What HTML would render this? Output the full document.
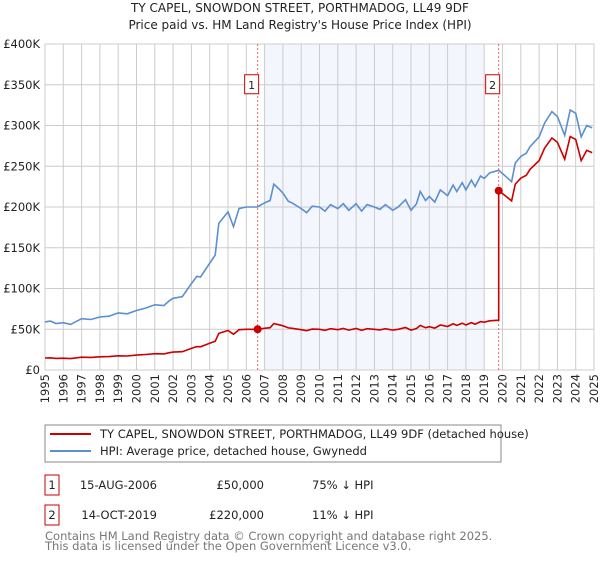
<!DOCTYPE html>
<html><head><meta charset="utf-8"><style>
body{margin:0;background:#fff;font-family:"Liberation Sans","DejaVu Sans",sans-serif;}
svg text{font-family:"DejaVu Sans","Liberation Sans",sans-serif;}
</style></head><body>
<svg id="c" width="600" height="560" viewBox="0 0 600 560" xmlns="http://www.w3.org/2000/svg">
<text x="300" y="12" text-anchor="middle" font-size="12" fill="#222">TY CAPEL, SNOWDON STREET, PORTHMADOG, LL49 9DF</text>
<text x="300" y="29" text-anchor="middle" font-size="12" fill="#222">Price paid vs. HM Land Registry's House Price Index (HPI)</text>
<g id="plot"></g>
<g>
<rect x="45" y="425" width="456" height="37" fill="#fff" stroke="#888"/>
<line x1="50" y1="434" x2="91" y2="434" stroke="#cc0000" stroke-width="2"/>
<text x="100" y="438" font-size="11.5" fill="#222">TY CAPEL, SNOWDON STREET, PORTHMADOG, LL49 9DF (detached house)</text>
<line x1="50" y1="451" x2="91" y2="451" stroke="#5b8fd0" stroke-width="2"/>
<text x="100" y="455" font-size="11.5" fill="#222">HPI: Average price, detached house, Gwynedd</text>
</g>
<g font-size="11.5" fill="#222">
<rect x="45" y="475" width="14" height="20" fill="#fff" stroke="#cc0000"/>
<text x="52" y="489" text-anchor="middle">1</text>
<text x="157" y="489" text-anchor="end">15-AUG-2006</text>
<text x="264" y="489" text-anchor="end">£50,000</text>
<text x="312" y="489">75% ↓ HPI</text>
<rect x="45" y="505" width="14" height="20" fill="#fff" stroke="#cc0000"/>
<text x="52" y="519" text-anchor="middle">2</text>
<text x="157" y="519" text-anchor="end">14-OCT-2019</text>
<text x="264" y="519" text-anchor="end">£220,000</text>
<text x="312" y="519">11% ↓ HPI</text>
</g>
<text x="45" y="540" font-size="11.5" fill="#777">Contains HM Land Registry data © Crown copyright and database right 2025.</text>
<text x="45" y="550" font-size="11.5" fill="#777">This data is licensed under the Open Government Licence v3.0.</text>
</svg>
<script>
const hpiYears=[1995,1995.3,1995.6,1996,1996.4,1997,1997.5,1998,1998.5,1999,1999.5,2000,2000.5,2001,2001.5,2001.8,2002,2002.5,2003,2003.3,2003.5,2004,2004.3,2004.5,2005,2005.3,2005.6,2006,2006.6,2007,2007.3,2007.5,2007.8,2008,2008.3,2008.5,2009,2009.3,2009.6,2010,2010.3,2010.6,2011,2011.3,2011.6,2012,2012.3,2012.6,2013,2013.3,2013.6,2014,2014.3,2014.7,2015,2015.3,2015.5,2015.8,2016,2016.3,2016.6,2017,2017.3,2017.5,2017.8,2018,2018.3,2018.5,2018.8,2019,2019.3,2019.8,2020.2,2020.5,2020.7,2021,2021.3,2021.5,2022,2022.3,2022.7,2023,2023.4,2023.7,2024,2024.3,2024.6,2024.9];
const hpiValues=[59,60,57,58,56,63,62,65,66,70,69,73,76,80,79,85,88,90,106,115,114,131,141,180,194,176,198,200,200,205,208,228,222,217,207,205,198,193,201,200,195,203,198,204,196,204,195,203,200,197,203,196,200,209,196,204,219,208,213,206,221,214,227,219,230,221,233,225,238,235,242,245,237,231,254,262,266,274,286,303,317,311,288,319,315,286,300,297];
const saleYears=[2006.62,2019.79];
const salePrices=[50,220];
const saleLabels=["1","2"];
const yTicks=[0,50,100,150,200,250,300,350,400];
const yTickLabels=["£0","£50K","£100K","£150K","£200K","£250K","£300K","£350K","£400K"];
const xTicks=[1995,1996,1997,1998,1999,2000,2001,2002,2003,2004,2005,2006,2007,2008,2009,2010,2011,2012,2013,2014,2015,2016,2017,2018,2019,2020,2021,2022,2023,2024,2025];

const X0=45,X1=594,Y0=370,Y1=44;
const xs=v=>X0+(v-1995)/30*(X1-X0);
const ys=v=>Y0-v/400*(Y0-Y1);
const NS="http://www.w3.org/2000/svg";
const g=document.getElementById('plot');
function mk(t,a){const e=document.createElementNS(NS,t);for(const k in a)e.setAttribute(k,a[k]);g.appendChild(e);return e;}
function hpiAt(y){for(let i=0;i<hpiYears.length-1;i++){if(y<=hpiYears[i+1]){const t=(y-hpiYears[i])/(hpiYears[i+1]-hpiYears[i]);return hpiValues[i]+t*(hpiValues[i+1]-hpiValues[i]);}}return hpiValues[hpiValues.length-1];}

let r=mk('rect',{x:X0,y:Y1,width:X1-X0,height:Y0-Y1,fill:'#fff',stroke:'#ccc'});


let sh=mk('rect',{x:xs(2007),y:Y1,width:xs(2019)-xs(2007),height:Y0-Y1,fill:'#f3f6fd'});


xTicks.forEach(t=>{
 let l=mk('line',{x1:xs(t),x2:xs(t),y1:Y1,y2:Y0,stroke:'#ccc'});
 
 
 let tx=mk('text',{x:0,y:0,transform:`translate(${xs(t)+4},374) rotate(-90)`,'text-anchor':'end','font-size':'11.5',fill:'#222'});
 tx.textContent=t;
 
 
});
yTicks.forEach((t,i)=>{
 let l=mk('line',{x1:X0,x2:X1,y1:ys(t),y2:ys(t),stroke:'#ccc'});
 
 
 let tx=mk('text',{x:40,y:ys(t)+4,'text-anchor':'end','font-size':'11.5',fill:'#222'});
 tx.textContent=yTickLabels[i];
 
 
});
saleYears.forEach((s,i)=>{
 let l=mk('line',{x1:xs(s),x2:xs(s),y1:Y1,y2:Y0,stroke:'#e66','stroke-dasharray':'2,2'});
 
 
 let b=mk('rect',{x:xs(s)-13,y:ys(350)-10,width:14,height:19,fill:'#fff',stroke:'#cc0000'});
 
 
 let tx=mk('text',{x:xs(s)-6,y:ys(350)+4,'text-anchor':'middle','font-size':'11',fill:'#222'});
 tx.textContent=saleLabels[i];
 
 
});
let d='';
hpiYears.forEach((y,i)=>{d+=(i?'L':'M')+xs(y).toFixed(1)+','+ys(hpiValues[i]).toFixed(1);});
let hp=mk('path',{d:d,fill:'none',stroke:'#5b8fd0','stroke-width':1.6});


let pd='';const pts=[];
const allYears=hpiYears.slice();saleYears.forEach(s=>allYears.push(s));allYears.sort((a,b)=>a-b);
allYears.forEach(y=>{
 const k=y>=saleYears[1]?1:0;
 const v=hpiAt(y)*salePrices[k]/hpiAt(saleYears[k]);
 if(Math.abs(y-saleYears[1])<1e-6){pts.push([y,hpiAt(y)*salePrices[0]/hpiAt(saleYears[0])]);}
 pts.push([y,v]);
});
pts.forEach((p,i)=>{pd+=(i?'L':'M')+xs(p[0]).toFixed(1)+','+ys(p[1]).toFixed(1);});
let pp=mk('path',{d:pd,fill:'none',stroke:'#cc0000','stroke-width':1.6});


saleYears.forEach((s,i)=>{
 let c=mk('circle',{cx:xs(s),cy:ys(salePrices[i]),r:4,fill:'#cc0000'});
 
 
});
</script>
</body></html>
